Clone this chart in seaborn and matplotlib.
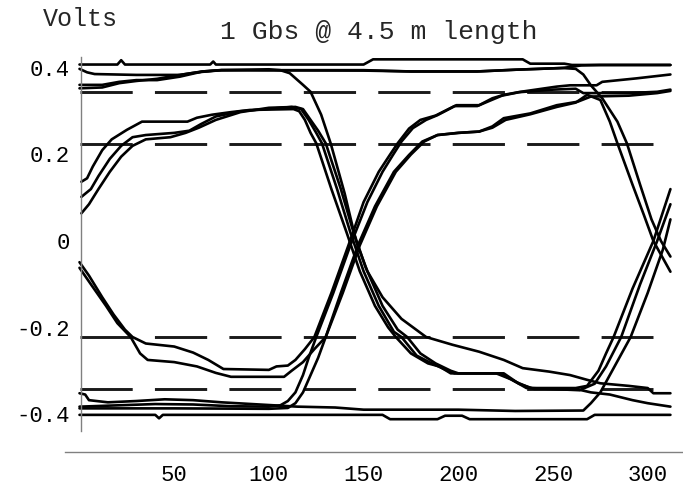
import matplotlib
matplotlib.use("Agg")
import matplotlib.pyplot as plt
import seaborn as sns
import pandas as pd

# ---------------- data ----------------
title_text = "1 Gbs @ 4.5 m length"
ylabel_text = "Volts"

y_ticks = [-0.4, -0.2, 0.0, 0.2, 0.4]
y_tick_labels = ["-0.4", "-0.2", "0", "0.2", "0.4"]
y_minor = [-0.35, -0.3, -0.25, -0.15, -0.1, -0.05, 0.05, 0.1, 0.15, 0.25, 0.3, 0.35]
x_ticks = [50, 100, 150, 200, 250, 300]
x_tick_labels = ["50", "100", "150", "200", "250", "300"]
x_minor = [10, 20, 30, 40, 60, 70, 80, 90, 110, 120, 130, 140, 160, 170, 180, 190,
           210, 220, 230, 240, 260, 270, 280, 290, 310]

dash_levels = [0.345, 0.224, -0.222, -0.342]
dash_start = 0
dash_end = 303

ta_x = [0, 20, 22, 24, 69, 70.6, 72, 150, 155, 234, 238, 256, 260, 312]
ta_y = [0.408, 0.408, 0.418, 0.408, 0.408, 0.415, 0.408, 0.408, 0.42, 0.42, 0.41, 0.41, 0.407, 0.407]

tb_x = [0, 4, 8, 30, 53, 62, 75, 150, 175, 210, 230, 255, 262, 266, 270, 276, 284, 289, 296, 302, 307, 312]
tb_y = [0.398, 0.39, 0.386, 0.384, 0.384, 0.39, 0.395, 0.395, 0.392, 0.392, 0.396, 0.4, 0.398,
        0.385, 0.36, 0.33, 0.276, 0.226, 0.13, 0.05, 0.0, -0.036]

tc_x = [0, 12, 21, 30, 41, 53, 65, 74, 100, 106, 111, 118, 122, 127.6, 132.6, 140, 146, 152, 160,
        170, 183, 197, 211, 224, 234, 248, 259, 268, 275, 290, 300, 303, 312]
tc_y = [0.361, 0.361, 0.368, 0.372, 0.372, 0.38, 0.392, 0.395, 0.397, 0.395, 0.388, 0.361, 0.345,
        0.292, 0.226, 0.11, 0.0, -0.07, -0.13, -0.18, -0.222, -0.24, -0.256, -0.275, -0.294, -0.302,
        -0.31, -0.321, -0.329, -0.335, -0.34, -0.352, -0.352]

td_x = [0, 12, 21, 30, 41, 53, 65, 75, 150, 175, 210, 230, 255, 265, 275, 312]
td_y = [0.353, 0.355, 0.365, 0.37, 0.375, 0.384, 0.392, 0.395, 0.394, 0.392, 0.392, 0.396, 0.4,
        0.406, 0.407, 0.407]

u1_x = [1, 4, 7, 12, 17, 25, 33, 57, 62, 70, 80, 90, 113, 116, 119, 122, 125, 133, 141, 148, 156,
        163, 167, 175, 184, 190, 196, 220, 228, 236, 262, 268, 274, 278, 282, 292, 303, 312]
u1_y = [0.137, 0.145, 0.172, 0.21, 0.235, 0.257, 0.276, 0.276, 0.285, 0.292, 0.298, 0.303, 0.305,
        0.3, 0.28, 0.25, 0.226, 0.12, 0.02, -0.07, -0.15, -0.2, -0.222, -0.26, -0.283, -0.29, -0.306,
        -0.306, -0.32, -0.34, -0.34, -0.335, -0.3, -0.26, -0.222, -0.11, 0.0, 0.12]

u2_x = [1, 6, 10, 16, 22, 28, 35, 50, 58, 64, 72, 85, 112, 117, 121, 125, 128, 136, 143, 150, 158,
        166, 170, 178, 186, 192, 198, 222, 230, 238, 264, 272, 278, 286, 296, 305, 312]
u2_y = [0.102, 0.12, 0.15, 0.19, 0.22, 0.24, 0.245, 0.25, 0.255, 0.27, 0.288, 0.3, 0.31, 0.305,
        0.28, 0.25, 0.226, 0.12, 0.02, -0.07, -0.15, -0.21, -0.222, -0.265, -0.283, -0.295, -0.306,
        -0.306, -0.325, -0.34, -0.345, -0.33, -0.29, -0.222, -0.1, 0.0, 0.085]

u3_x = [1, 5, 10, 16, 22, 28, 35, 48, 56, 63, 72, 85, 100, 114, 118, 122, 126, 130, 138, 144, 151,
        160, 168, 173, 180, 188, 196, 200, 224, 232, 240, 262, 270, 280, 292, 300, 312]
u3_y = [0.064, 0.085, 0.12, 0.16, 0.195, 0.22, 0.235, 0.24, 0.25, 0.262, 0.28, 0.298, 0.308, 0.31,
        0.305, 0.28, 0.255, 0.226, 0.12, 0.03, -0.06, -0.15, -0.205, -0.222, -0.26, -0.283, -0.3,
        -0.306, -0.306, -0.33, -0.342, -0.342, -0.35, -0.355, -0.368, -0.375, -0.383]

l1_x = [0, 5, 12, 18, 24, 28, 35, 50, 60, 68, 76, 100, 104, 110, 114, 119, 124, 133, 142, 150, 158,
        164, 168, 174, 180, 188, 198, 210, 217, 223, 232, 250, 262, 266, 290, 305, 312]
l1_y = [-0.049, -0.08, -0.13, -0.17, -0.205, -0.222, -0.237, -0.244, -0.258, -0.275, -0.296, -0.298,
        -0.29, -0.288, -0.275, -0.25, -0.222, -0.12, -0.01, 0.09, 0.16, 0.2, 0.226, 0.26, 0.28, 0.29,
        0.312, 0.312, 0.325, 0.336, 0.344, 0.35, 0.352, 0.342, 0.342, 0.345, 0.35]

l2_x = [0, 6, 14, 20, 27, 32, 36, 50, 62, 72, 80, 108, 112, 118, 124, 130, 139, 148, 157, 167, 175,
        182, 189, 200, 211, 218, 225, 238, 252, 262, 268, 275, 280, 284, 292, 298, 303, 312]
l2_y = [-0.062, -0.1, -0.15, -0.19, -0.222, -0.26, -0.275, -0.28, -0.29, -0.305, -0.314, -0.314,
        -0.3, -0.28, -0.25, -0.222, -0.12, -0.01, 0.08, 0.16, 0.2, 0.23, 0.245, 0.25, 0.253, 0.262,
        0.28, 0.293, 0.31, 0.32, 0.338, 0.326, 0.276, 0.226, 0.13, 0.06, 0.0, -0.071]

b1_x = [0, 3, 5, 15, 30, 45, 60, 75, 95, 115, 135, 150, 200, 230, 266, 270, 275, 280, 285, 291,
        300, 308, 312]
b1_y = [-0.352, -0.355, -0.368, -0.373, -0.37, -0.366, -0.368, -0.373, -0.378, -0.383, -0.385,
        -0.39, -0.39, -0.393, -0.392, -0.375, -0.35, -0.31, -0.27, -0.222, -0.12, -0.02, 0.05]

b2_x = [0, 20, 40, 60, 80, 100, 106, 110, 114, 118, 121, 125, 134, 143, 152, 160, 165.5, 170, 176,
        183, 189, 199, 211, 218, 224, 233, 252, 259, 273, 276, 294, 312]
b2_y = [-0.383, -0.38, -0.377, -0.378, -0.382, -0.383, -0.38, -0.37, -0.35, -0.31, -0.27, -0.222,
        -0.12, -0.01, 0.09, 0.16, 0.199, 0.23, 0.261, 0.28, 0.291, 0.314, 0.314, 0.33, 0.338, 0.345,
        0.357, 0.36, 0.36, 0.368, 0.376, 0.385]

b3_x = [0, 50, 100, 110, 114, 118, 122, 126, 130, 138, 147, 156, 166, 174, 181, 189, 200, 211, 218,
        224, 238, 252, 263, 270, 290, 305, 312]
b3_y = [-0.387, -0.387, -0.388, -0.386, -0.375, -0.35, -0.31, -0.27, -0.222, -0.12, -0.01, 0.08,
        0.16, 0.199, 0.23, 0.245, 0.25, 0.253, 0.265, 0.284, 0.295, 0.314, 0.322, 0.334, 0.336,
        0.342, 0.347]

b4_x = [0, 40, 42, 44, 160, 164, 189, 193, 202, 206, 268, 272, 312]
b4_y = [-0.402, -0.402, -0.41, -0.402, -0.402, -0.412, -0.412, -0.404, -0.404, -0.412, -0.412,
        -0.402, -0.402]

traces = {
    "ta": (ta_x, ta_y), "tb": (tb_x, tb_y), "tc": (tc_x, tc_y), "td": (td_x, td_y),
    "u1": (u1_x, u1_y), "u2": (u2_x, u2_y), "u3": (u3_x, u3_y),
    "l1": (l1_x, l1_y), "l2": (l2_x, l2_y),
    "b1": (b1_x, b1_y), "b2": (b2_x, b2_y), "b3": (b3_x, b3_y), "b4": (b4_x, b4_y),
}

df = pd.concat(
    [pd.DataFrame({"trace": k, "x": v[0], "y": v[1]}) for k, v in traces.items()],
    ignore_index=True,
)

# ---------------- figure ----------------
sns.set_style("white")
plt.rcParams["font.family"] = ["Liberation Mono", "DejaVu Sans"]
plt.rcParams["lines.scale_dashes"] = False

W, H = 683, 488
fig = plt.figure(figsize=(W / 100, H / 100), dpi=100)
ax = fig.add_axes([0, 0, 1, 1])

# pixel mapping of the reference
x0_px, x_scale = 79.5, 1.894
y0_px, y_scale = 241.0, 432.5
ax.set_xlim(-x0_px / x_scale, (W - x0_px) / x_scale)
ax.set_ylim((y0_px - H) / y_scale, y0_px / y_scale)

ax.hlines(dash_levels, dash_start, dash_end, colors="#1a1a1a", linewidth=2.1,
          linestyles=[(0, (37.6, 16.0))], zorder=1)

sns.lineplot(data=df, x="x", y="y", units="trace", estimator=None, sort=False,
             color="black", linewidth=1.9, legend=False, ax=ax, zorder=2)

ax.set_xlabel("")
ax.set_ylabel("")
for s in ["top", "right"]:
    ax.spines[s].set_visible(False)
axis_col = "#808080"
ax.spines["left"].set_position(("data", 0.8))
ax.spines["left"].set_bounds(-0.439, 0.425)
ax.spines["bottom"].set_position(("data", -0.488))
ax.spines["bottom"].set_bounds(-7.7, (W - x0_px) / x_scale)
for s in ["left", "bottom"]:
    ax.spines[s].set_color(axis_col)
    ax.spines[s].set_linewidth(1.0)

ax.set_yticks(y_ticks, labels=y_tick_labels)
ax.set_yticks(y_minor, minor=True)
ax.set_xticks(x_ticks, labels=x_tick_labels)
ax.set_xticks(x_minor, minor=True)
ax.tick_params(axis="both", which="major", direction="in", length=4.5, width=0.8,
               color=axis_col, labelsize=16, labelcolor="black")
ax.tick_params(axis="both", which="minor", direction="in", length=2.5, width=0.8,
               color=axis_col)
ax.tick_params(axis="y", which="major", pad=8)
ax.tick_params(axis="x", which="major", pad=9)

fig.text(80 / W, 1 - 19 / H, ylabel_text, ha="center", va="center", fontsize=18)
fig.text(379 / W, 1 - 32 / H, title_text, ha="center", va="center", fontsize=19)

fig.savefig("out.png", dpi=100)
